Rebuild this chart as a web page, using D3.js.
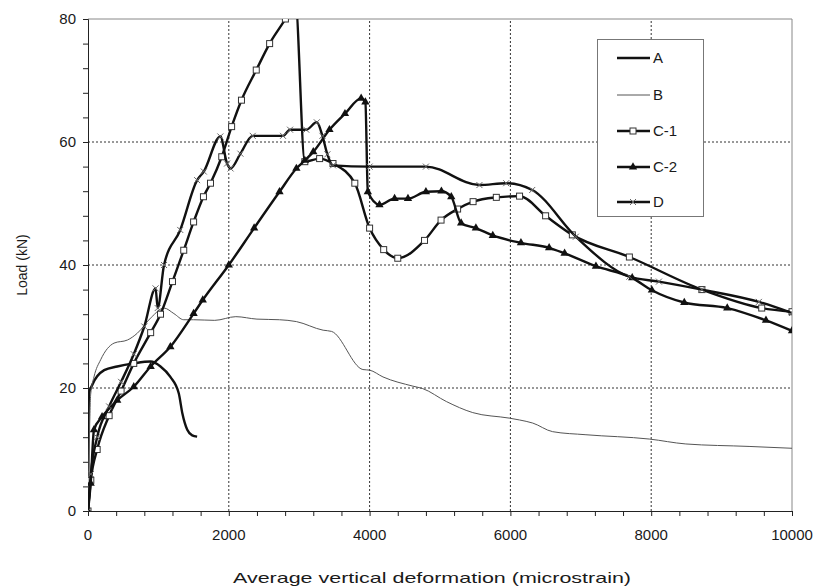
<!DOCTYPE html>
<html lang="en">
<head>
<meta charset="UTF-8">
<script src="https://d3js.org/d3.v7.min.js"></script>
<title>Load vs deformation</title>
<style>
  body { margin: 0; background: #fff; }
  text { font-family: Arial, "Liberation Sans", sans-serif; fill: #1a1a1a; }
</style>
</head>
<body>
<div id="chart"></div>
<script>
// axis ticks
const xTicks = [0, 2000, 4000, 6000, 8000, 10000];
const yTicks = [0, 20, 40, 60, 80];
const seriesNames = ["A", "B", "C-1", "C-2", "D"];

// [microstrain, kN]
const seriesA = [[0,0],[5,10],[14,19.1],[60,20.5],[230,22.9],[415,23.5],[650,24],[890,24.3],[1030,23.5],
  [1170,21.8],[1290,19.1],[1340,15.9],[1410,13.2],[1480,12.3],[1550,12.1]];
const seriesB = [[0,0],[20,12],[38,19],[85,21.8],[180,24.6],[370,27.3],[560,27.8],[700,28.9],[900,31.5],
  [1080,33],[1220,32.1],[1360,31.1],[1500,31.1],[1800,31],[2100,31.6],[2400,31.2],[2720,31.1],[2960,30.8],
  [3340,29.4],[3460,29.2],[3905,23],[4000,22.9],[4190,21.8],[4615,20.3],[4755,19.9],[5090,17.8],[5465,16],
  [5985,15.1],[6130,14.8],[6317,14.3],[6600,12.9],[7073,12.4],[7972,11.7],[8492,10.9],[9390,10.5],[10000,10.2]];
const seriesC1 = [[0,0],[40,5],[130,10],[300,15.5],[470,19.5],[650,24],[890,29],[1030,32],[1200,37.3],
  [1360,42.4],[1500,47],[1640,51.1],[1740,53.3],[1900,57.6],[2040,62.5],[2180,66.8],[2390,71.7],[2580,76],
  [2804,80],[2945,82.8],[3080,56.8],[3290,57.3],[3480,56.5],[3790,53.3],[4000,46],[4200,42.5],[4400,41.1],
  [4780,44],[5015,47.3],[5250,49.1],[5470,50.3],[5800,51],[6130,51.2],[6500,48],[6880,44.9],[7690,41.3],
  [8720,36],[9570,33],[10000,32.4]];
const seriesC2 = [[0,0],[38,4.5],[85,13.2],[200,15.3],[415,18],[650,20.2],[890,23.5],[1170,26.7],[1500,32.1],
  [1630,34.3],[2000,40],[2360,46],[2720,51.9],[2960,55.7],[3080,57],[3200,58.4],[3430,62],[3650,64.6],
  [3880,67.1],[3940,66.5],[3975,51.9],[4140,49.8],[4355,50.8],[4545,50.8],[4800,51.9],[5020,52],[5160,51.1],
  [5300,46.8],[5510,46],[5750,44.8],[6150,43.6],[6550,42.8],[6770,41.9],[7215,39.8],[7730,37.9],[8010,35.9],
  [8470,33.9],[9080,33],[9630,31],[10000,29.3]];
const seriesD = [[0,0],[40,6],[130,12],[300,17],[470,21],[650,25.5],[800,30],[960,36.2],[990,33],[1080,40],
  [1310,45.7],[1550,53.8],[1645,55.2],[1880,60.9],[1975,56.5],[2025,55.7],[2165,58.1],[2340,61],[2770,61],
  [2870,62],[3100,62],[3250,63.2],[3330,61],[3400,58],[3480,56.2],[4000,56],[4800,56],[5560,53],[5940,53.3],
  [6310,52.2],[6930,44.6],[7690,38.1],[8110,37.3],[8720,36],[9530,34],[10000,32.2]];

const width = 817, height = 588;
const margin = { top: 19, right: 25, bottom: 77, left: 88 };

const svg = d3.select("#chart").append("svg")
  .attr("width", width)
  .attr("height", height);

const x = d3.scaleLinear().domain([0, 10000]).range([margin.left, width - margin.right]);
const y = d3.scaleLinear().domain([0, 80]).range([height - margin.bottom, margin.top]);

svg.append("defs").append("clipPath").attr("id", "plotclip")
  .append("rect")
  .attr("x", x(0)).attr("y", y(80))
  .attr("width", x(10000) - x(0)).attr("height", y(0) - y(80));

// gridlines
const grid = svg.append("g");
grid.selectAll(".gx").data(xTicks.slice(1, -1)).enter().append("line")
  .attr("x1", d => x(d)).attr("x2", d => x(d))
  .attr("y1", y(0)).attr("y2", y(80))
  .attr("stroke", "#333").attr("stroke-width", 1).attr("stroke-dasharray", "2,2");
grid.selectAll(".gy").data(yTicks.slice(1, -1)).enter().append("line")
  .attr("x1", x(0)).attr("x2", x(10000))
  .attr("y1", d => y(d)).attr("y2", d => y(d))
  .attr("stroke", "#333").attr("stroke-width", 1).attr("stroke-dasharray", "2,2");

// frame top / right
svg.append("path")
  .attr("d", `M${x(0)},${y(80)}H${x(10000)}V${y(0)}`)
  .attr("fill", "none").attr("stroke", "#888").attr("stroke-width", 1);

// axes
const xAxis = svg.append("g").attr("transform", `translate(0,${y(0)})`)
  .call(d3.axisBottom(x).tickValues(d3.range(0, 10001, 400)).tickSize(5).tickFormat(""));
xAxis.append("g").selectAll("text").data(xTicks).enter().append("text")
  .attr("x", d => x(d)).attr("y", 29)
  .attr("text-anchor", "middle").style("font-size", "15px")
  .text(d => d);

const yAxis = svg.append("g").attr("transform", `translate(${x(0)},0)`)
  .call(d3.axisLeft(y).tickValues(d3.range(0, 81, 4)).tickSize(5).tickFormat(""));
yAxis.append("g").selectAll("text").data(yTicks).enter().append("text")
  .attr("x", -12).attr("y", d => y(d) + 5)
  .attr("text-anchor", "end").style("font-size", "15px")
  .text(d => d);

svg.selectAll(".domain").attr("stroke", "#222");
svg.selectAll(".tick line").attr("stroke", "#222");

// the original title is drawn wide, so stretch it to the same span
svg.append("text")
  .attr("x", 233).attr("y", 583)
  .attr("textLength", 398).attr("lengthAdjust", "spacingAndGlyphs")
  .style("font-size", "15px")
  .text("Average vertical  deformation (microstrain)");

svg.append("text")
  .attr("transform", `translate(27,${(y(0) + y(80)) / 2}) rotate(-90)`)
  .attr("text-anchor", "middle").style("font-size", "14px")
  .text("Load  (kN)");

// series
const line = d3.line().x(d => x(d[0])).y(d => y(d[1])).curve(d3.curveMonotoneX);
const series = [
  { data: seriesA, width: 2.4, color: "#111", marker: null },
  { data: seriesB, width: 1, color: "#555", marker: null },
  { data: seriesC1, width: 2.4, color: "#111", marker: "square" },
  { data: seriesC2, width: 2.4, color: "#111", marker: "triangle" },
  { data: seriesD, width: 2.4, color: "#111", marker: "cross" }
];

const plot = svg.append("g").attr("clip-path", "url(#plotclip)");

function drawMarker(g, type) {
  if (type === "square") {
    g.append("rect").attr("x", -3).attr("y", -3).attr("width", 6).attr("height", 6)
      .attr("fill", "#fff").attr("stroke", "#333").attr("stroke-width", 1);
  } else if (type === "triangle") {
    g.append("path").attr("d", d3.symbol(d3.symbolTriangle, 30)())
      .attr("fill", "#111");
  } else if (type === "cross") {
    g.append("path").attr("d", "M-3,-3L3,3M-3,3L3,-3")
      .attr("stroke", "#666").attr("stroke-width", 1);
  }
}

series.forEach(s => {
  plot.append("path").datum(s.data)
    .attr("d", line)
    .attr("fill", "none")
    .attr("stroke", s.color)
    .attr("stroke-width", s.width)
    .attr("stroke-linejoin", "round");
  if (s.marker) {
    plot.append("g").selectAll("g").data(s.data).enter().append("g")
      .attr("transform", d => `translate(${x(d[0])},${y(d[1])})`)
      .each(function () { drawMarker(d3.select(this), s.marker); });
  }
});

// legend
const legend = svg.append("g");
legend.append("rect")
  .attr("x", 597.5).attr("y", 39.5).attr("width", 106).attr("height", 177)
  .attr("fill", "#fff").attr("stroke", "#777").attr("stroke-width", 1);
const legendY = [58, 95, 131, 167, 202];
series.forEach((s, i) => {
  const gy = legendY[i];
  legend.append("line")
    .attr("x1", 617).attr("x2", 650).attr("y1", gy).attr("y2", gy)
    .attr("stroke", s.color).attr("stroke-width", s.width);
  if (s.marker) {
    const m = legend.append("g").attr("transform", `translate(633,${gy})`);
    drawMarker(m, s.marker);
  }
  legend.append("text")
    .attr("x", 653).attr("y", gy + 5)
    .style("font-size", "15px")
    .text(seriesNames[i]);
});
</script>
</body>
</html>
